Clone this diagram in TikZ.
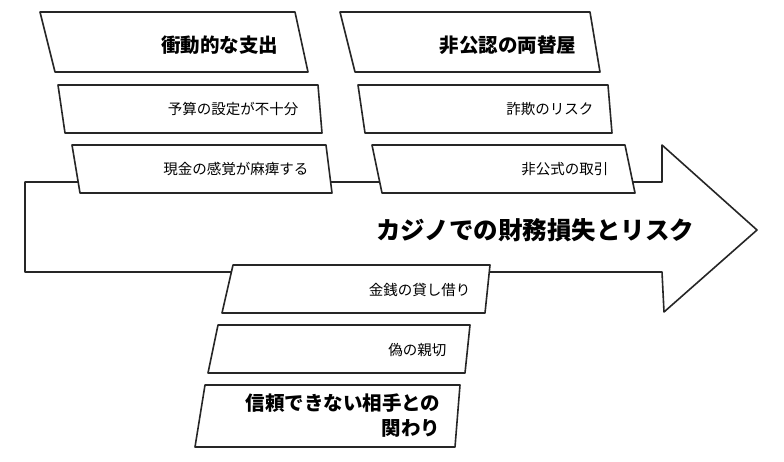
\documentclass[tikz,border=0pt]{standalone}
\usepackage{fontspec}
\newfontfamily\jp{Noto Sans CJK JP}
\tikzset{
  box/.style={draw=black!85, line width=1.6pt, fill=white, line join=round},
  head/.style={font=\jp\bfseries\fontsize{19.5}{25}\selectfont, anchor=east, align=right},
  item/.style={font=\jp\fontsize{14.5}{17}\selectfont, anchor=east}
}
\begin{document}
\begin{tikzpicture}[x=1pt,y=-1pt]
	\useasboundingbox (0,0) rectangle (784,461);

	% Pfeil
	\draw[box] (25,182) -- (662,182) -- (662,145) -- (757,230) -- (664,312)
		-- (662,272) -- (25,272) -- cycle;
	\node[font=\jp\bfseries\fontsize{24.5}{28}\selectfont, anchor=east] (title) at (698,230) {カジノでの財務損失とリスク};

	% Oben links
	\draw[box] (40,12) -- (295,12) -- (308,72) -- (55,72) -- cycle;
	\node[head] (impulse) at (282,45) {衝動的な支出};
	\draw[box] (58,85) -- (318,85) -- (322,133) -- (65,133) -- cycle;
	\node[item] (budget) at (302,109) {予算の設定が不十分};
	\draw[box] (72,145) -- (326,145) -- (332,193) -- (80,193) -- cycle;
	\node[item] (cash) at (312,169) {現金の感覚が麻痺する};

	% Oben rechts
	\draw[box] (340,12) -- (590,12) -- (600,72) -- (355,72) -- cycle;
	\node[head] (exchange) at (580,45) {非公認の両替屋};
	\draw[box] (358,85) -- (608,85) -- (612,133) -- (365,133) -- cycle;
	\node[item] (fraud) at (597,109) {詐欺のリスク};
	\draw[box] (372,145) -- (625,145) -- (635,193) -- (382,193) -- cycle;
	\node[item] (informal) at (612,169) {非公式の取引};

	% Unten
	\draw[box] (233,265) -- (490,265) -- (485,313) -- (222,313) -- cycle;
	\node[item] (loan) at (474,290) {金銭の貸し借り};
	\draw[box] (218,325) -- (470,325) -- (465,373) -- (208,373) -- cycle;
	\node[item] (fake) at (450,350) {偽の親切};
	\draw[box] (205,385) -- (460,385) -- (455,447) -- (195,447) -- cycle;
	\node[head] (untrust) at (444,416) {信頼できない相手との\\関わり};
\end{tikzpicture}
\end{document}
